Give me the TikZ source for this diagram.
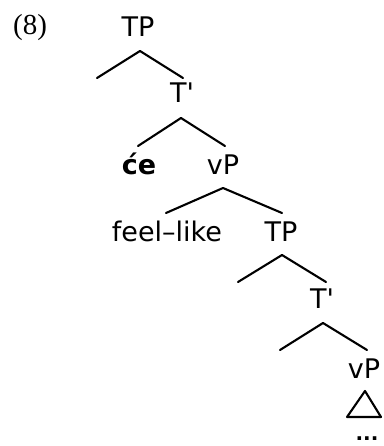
\documentclass[tikz,border=0pt]{standalone}
\usepackage{fontspec}
\newfontfamily\treesans{DejaVu Sans}
\newfontfamily\treeserif{Liberation Serif}
\begin{document}
\begin{tikzpicture}[x=1pt,y={(0pt,-1pt)},
  lbl/.style={anchor=base,inner sep=0pt,font=\treesans\fontsize{27}{31}\selectfont},
  branch/.style={line width=2.1pt,line cap=round,line join=round}]
\useasboundingbox[fill=white] (0,0) rectangle (383,446);
\node[anchor=base,inner sep=0pt,font=\treeserif\fontsize{29}{33}\selectfont] (num) at (30,35) {(8)};
% labels
\node[lbl] (tp1) at (138,37) {TP};
\node[lbl] (tb1) at (182,103) {T'};
\node[lbl,font=\treesans\bfseries\fontsize{27}{31}\selectfont] (ce) at (139,175) {će};
\node[lbl] (vp1) at (223,175) {vP};
\node[lbl] (feel) at (167,241) {feel–like};
\node[lbl] (tp2) at (281,241) {TP};
\node[lbl] (tb2) at (322,308) {T'};
\node[lbl] (vp2) at (364,378) {vP};
\node[anchor=base,inner sep=0pt,font=\treesans\bfseries\fontsize{20}{24}\selectfont] (dots) at (367,440) {...};
% apexes and branch ends
\coordinate (a1) at (140,51);  \coordinate (l1) at (97,78);   \coordinate (r1) at (183,78);
\coordinate (a2) at (181,118); \coordinate (l2) at (138,146); \coordinate (r2) at (225,146);
\coordinate (a3) at (223,188); \coordinate (l3) at (166,213); \coordinate (r3) at (282,213);
\coordinate (a4) at (282,255); \coordinate (l4) at (238,282); \coordinate (r4) at (326,282);
\coordinate (a5) at (323,323); \coordinate (l5) at (280,350); \coordinate (r5) at (367,350);
\coordinate (t1) at (365,391); \coordinate (t2) at (347,417); \coordinate (t3) at (381,417);
\draw[branch] (l1) -- (a1) -- (r1);
\draw[branch] (l2) -- (a2) -- (r2);
\draw[branch] (l3) -- (a3) -- (r3);
\draw[branch] (l4) -- (a4) -- (r4);
\draw[branch] (l5) -- (a5) -- (r5);
\draw[branch] (t1) -- (t2) -- (t3) -- cycle;
\end{tikzpicture}
\end{document}
